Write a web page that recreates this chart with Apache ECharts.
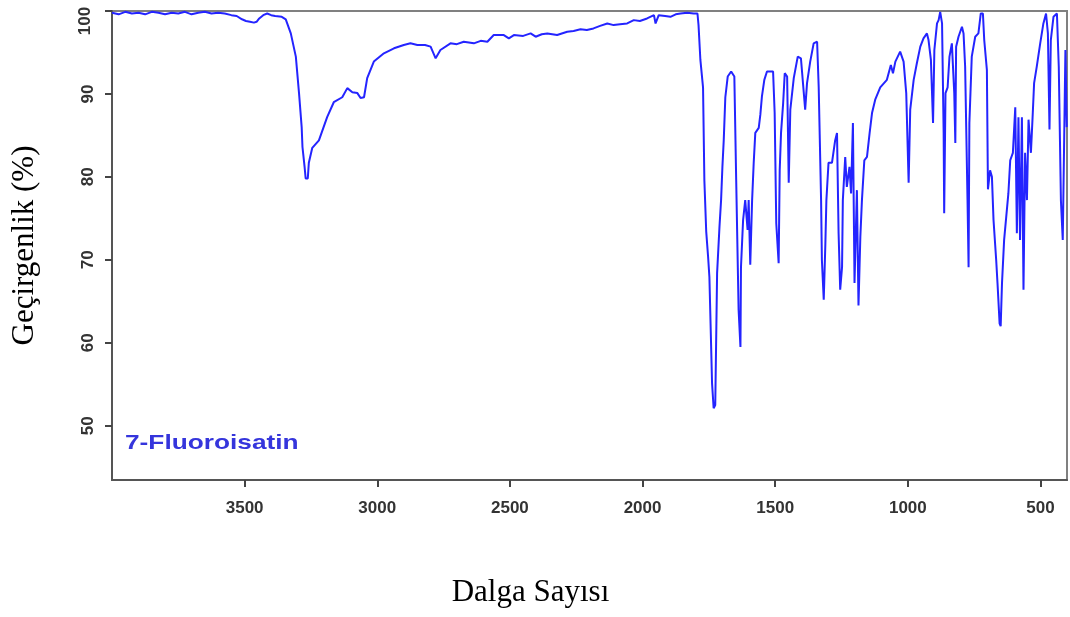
<!DOCTYPE html>
<html>
<head>
<meta charset="utf-8">
<script src="https://cdn.jsdelivr.net/npm/echarts@6/dist/echarts.min.js"></script>
<style>
html,body{margin:0;padding:0;background:#fff;}
#chart{width:1070px;height:617px;}
</style>
</head>
<body>
<div id="chart"></div>
<script>
const wavenumbers = [4000,3975,3950,3925,3900,3875,3850,3825,3800,3775,3750,3725,3700,3675,3650,3625,3600,3575,3550,3530,3510,3495,3480,3465,3455,3445,3430,3415,3400,3385,3360,3345,
3326,3307,3295,3285,3282,3274,3270,3262,3258,3245,3220,3189,3164,3132,3113,3094,3075,3063,3050,3038,3013,2975,2937,2900,2875,2849,2820,2799,2780,2762,2724,2700,2674,2636,2610,2585,2561,2523,2504,2485,2450,2422,2403,2380,2359,2322,2284,2260,2234,2210,2185,2160,2133,2109,2085,2058,2033,2010,1983,1957,1951,1939,1915,1895,1875,1857,1832,1807,1793,
1789,1782,1772,1767,1760,1755,1753,1748,1738,1732,1726,1722,1719,1710,1704,1699,1694,1688,1679,1666,1654,1647,1638,1631,1629,1621,1613,1604,1600,1594,1587,1581,1575,1562,1556,1550,1541,1531,1508,1502,1496,1487,1483,1478,1470,1464,1455,1449,1443,1430,1415,1403,1387,1380,1368,1355,1342,1336,1327,1324,1317,1311,1307,1299,1286,1274,1267,1261,1255,1248,1245,1236,1230,1220,1214,1207,1201,1192,1186,1179,1173,1164,1154,1144,1135,1123,1104,1079,1064,1056,1047,1029,1016,1006,997,991,978,966,953,941,928,922,913,905,900,890,884,878,871,865,863,858,850,843,834,825,821,818,809,796,790,784,775,771,768,759,746,734,725,717,712,702,698,690,683,677,667,662,654,650,645,637,629,621,614,604,595,589,583,577,570,564,558,551,545,536,529,524,514,501,489,479,472,466,461,451,438,431,423,416,410,406,401];
const transmittance = [99.8,99.6,99.9,99.7,99.8,99.6,99.9,99.8,99.6,99.8,99.7,99.9,99.6,99.8,99.9,99.7,99.8,99.7,99.5,99.4,99.0,98.8,98.7,98.6,98.7,99.1,99.5,99.7,99.5,99.4,99.3,99.0,
97.3,94.5,90.1,86.0,83.6,81.2,79.8,79.8,81.7,83.5,84.4,87.2,89.0,89.6,90.7,90.2,90.1,89.5,89.6,91.9,93.9,94.9,95.5,95.9,96.1,95.9,95.9,95.7,94.3,95.3,96.1,96.0,96.3,96.1,96.4,96.3,97.1,97.1,96.7,97.1,97.0,97.3,96.9,97.2,97.3,97.1,97.5,97.6,97.8,97.7,97.9,98.2,98.5,98.3,98.4,98.5,98.9,98.8,99.1,99.5,98.5,99.5,99.4,99.3,99.6,99.7,99.8,99.7,99.7,
98.3,94.1,90.8,79.6,73.4,73.2,70.4,67.9,55.1,52.1,52.5,61.5,68.4,74.0,77.2,81.2,84.4,89.6,92.1,92.7,92.1,79.6,64.0,59.5,69.1,74.8,77.2,73.6,77.2,69.4,77.2,81.7,85.3,85.9,87.5,89.7,91.7,92.7,92.7,87.7,74.4,69.6,80.8,85.3,88.9,92.5,92.1,79.3,88.1,91.9,94.5,94.3,88.1,91.3,93.9,96.1,96.3,90.8,77.2,70.0,65.2,71.8,77.2,81.7,81.7,84.4,85.3,73.2,66.4,69.1,77.2,82.4,78.8,81.2,78.0,86.5,67.2,78.4,64.5,72.8,77.2,82.0,82.4,85.3,87.7,89.3,90.8,91.7,93.5,92.5,93.9,95.1,93.9,90.1,79.3,88.1,91.7,93.7,95.7,96.7,97.3,96.5,94.1,86.5,95.3,98.5,98.9,99.9,98.5,85.3,75.6,90.1,90.8,94.5,96.1,90.1,84.1,95.7,96.9,98.1,97.3,93.3,77.2,69.1,86.5,94.5,96.9,97.3,99.7,99.7,96.5,92.9,78.5,80.8,80.0,74.8,70.0,67.2,62.3,62.0,67.2,72.4,75.2,78.0,82.0,82.9,88.4,73.2,87.2,72.4,87.2,66.4,82.9,77.2,86.9,82.9,87.7,91.3,93.3,96.1,98.5,99.7,97.3,85.7,96.5,99.3,99.7,93.3,77.2,72.4,86.0,95.3,86.0];
const xTicks = [3500,3000,2500,2000,1500,1000,500];
const yTicks = [50,60,70,80,90,100];
const sampleName = '7-Fluoroisatin';
const xName = 'Dalga Sayısı';
const yName = 'Geçirgenlik (%)';

const seriesData = wavenumbers.map((w, i) => [w, transmittance[i]]);
const chart = echarts.init(document.getElementById('chart'), null, {renderer: 'canvas'});
const tickFont = {fontFamily: 'Liberation Sans', fontSize: 17, fontWeight: 'bold', color: '#333'};
chart.setOption({
  animation: false,
  backgroundColor: '#fff',
  grid: {left: 112, right: 3, top: 11, bottom: 137, show: true, borderColor: '#808080', borderWidth: 2},
  xAxis: {
    type: 'value', min: 400, max: 4000, inverse: true,
    axisLine: {show: true, onZero: false, lineStyle: {color: '#555', width: 2}},
    axisTick: {show: true, length: 7, lineStyle: {color: '#444', width: 2}, customValues: xTicks},
    axisLabel: Object.assign({customValues: xTicks, margin: 20, formatter: v => String(v)}, tickFont),
    splitLine: {show: false},
    name: xName, nameLocation: 'middle', nameGap: 97,
    nameTextStyle: {fontFamily: 'Liberation Serif', fontSize: 31, color: '#000', padding: [0, 118, 0, 0]}
  },
  yAxis: {
    type: 'value', min: 43.45, max: 100,
    axisLine: {show: true, onZero: false, lineStyle: {color: '#555', width: 2}},
    axisTick: {show: true, length: 7, lineStyle: {color: '#444', width: 2}, customValues: yTicks},
    axisLabel: Object.assign({customValues: yTicks, rotate: 90, margin: 15,
      formatter: v => (v === 100 ? '' : String(v))}, tickFont),
    splitLine: {show: false},
    name: yName, nameLocation: 'middle', nameGap: 72, nameRotate: 90,
    nameTextStyle: {fontFamily: 'Liberation Serif', fontSize: 31, color: '#000'}
  },
  graphic: [
    {type: 'text', x: 85, y: 21, rotation: Math.PI / 2,
      style: {text: '100', align: 'center', verticalAlign: 'middle', font: 'bold 17px "Liberation Sans"', fill: '#333'}},
    {type: 'text', x: 125, y: 433, scaleX: 1.25,
      style: {text: sampleName, align: 'left', verticalAlign: 'top', font: 'bold 21px "Liberation Sans"', fill: '#3535dc'}}
  ],
  series: [{
    type: 'line', data: seriesData, showSymbol: false, symbol: 'none',
    lineStyle: {color: '#2424ff', width: 2}, clip: true
  }]
});
</script>
</body>
</html>
